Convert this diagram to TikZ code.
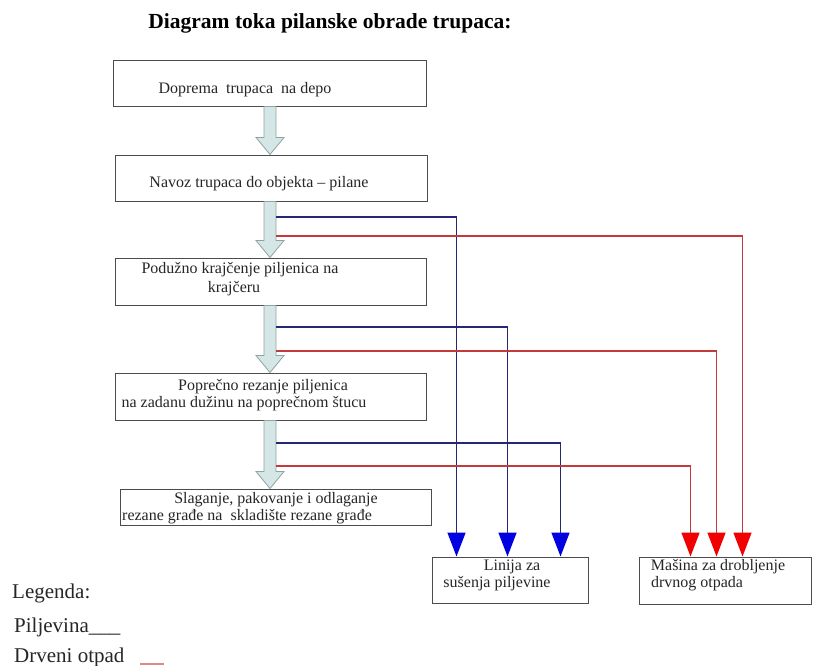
\documentclass[tikz,border=0pt]{standalone}
\usepackage{fontspec}
\setmainfont{Liberation Serif}
\usetikzlibrary{arrows.meta,calc}
\definecolor{arrfill}{HTML}{D5E6E6}
\definecolor{arrdraw}{HTML}{8FA3A3}
\definecolor{navy}{HTML}{27277A}
\definecolor{wred}{HTML}{C43A3A}
\definecolor{tipblue}{HTML}{0000E0}
\definecolor{tipred}{HTML}{F00000}
\newcommand\blkarr[2]{%
  \filldraw[blockarr] ($(ax |- #1.south)+(-6,0)$) -- ($(ax |- #2.north)+(-6,-17)$)
    -- ($(ax |- #2.north)+(-14,-17)$) -- (ax |- #2.north)
    -- ($(ax |- #2.north)+(14,-17)$) -- ($(ax |- #2.north)+(6,-17)$)
    -- ($(ax |- #1.south)+(6,0)$) -- cycle;}
\begin{document}
\begin{tikzpicture}[x=1pt,y=-1pt,
  box/.style={draw=black!70,line width=1pt,inner sep=0pt,fill=white},
  txt/.style={font=\fontsize{16}{19}\selectfont,inner sep=0pt,anchor=base,text=black!85},
  leg/.style={font=\fontsize{21}{24}\selectfont,inner sep=0pt,anchor=base west,text=black!85},
  blockarr/.style={fill=arrfill,draw=arrdraw,line width=0.8pt},
  pil/.style={draw=navy,line width=1.5pt,-{Triangle[width=18pt,length=24pt,color=tipblue,fill=tipblue]}},
  otp/.style={draw=wred,line width=1.5pt,-{Triangle[width=18pt,length=24pt,color=tipred,fill=tipred]}},
]
\useasboundingbox[fill=white] (0,0) rectangle (813,665);

\node[font=\fontsize{21.5}{25}\selectfont\bfseries,anchor=base,inner sep=0pt] (title) at (330,28) {Diagram toka pilanske obrade trupaca:};

% boxes
\node[box,minimum width=313pt,minimum height=46pt] (b1) at (269.5,83) {};
\node[box,minimum width=312pt,minimum height=46pt] (b2) at (271,178) {};
\node[box,minimum width=311pt,minimum height=47pt] (b3) at (270.5,281.5) {};
\node[box,minimum width=311pt,minimum height=47pt] (b4) at (270.5,396.5) {};
\node[box,minimum width=311pt,minimum height=36pt] (b5) at (275.5,507) {};
\node[box,minimum width=156pt,minimum height=46pt] (lin) at (510,580) {};
\node[box,minimum width=172pt,minimum height=47pt] (mas) at (725,580.5) {};

% box texts
\node[txt] (t1) at (245,93) {Doprema\ \ trupaca\ \ na depo};
\node[txt] (t2) at (259,187) {Navoz trupaca do objekta – pilane};
\node[txt] (t3a) at (240,273) {Podužno krajčenje piljenica na};
\node[txt] (t3b) at (234,292) {krajčeru};
\node[txt] (t4a) at (263,390) {Poprečno rezanje piljenica};
\node[txt] (t4b) at (244,407) {na zadanu dužinu na poprečnom štucu};
\node[txt] (t5a) at (276,503) {Slaganje, pakovanje i odlaganje};
\node[txt] (t5b) at (247,520) {rezane građe na\ \ skladište rezane građe};
\node[txt] (t6a) at (512,570) {Linija za};
\node[txt] (t6b) at (497,587) {sušenja piljevine};
\node[txt] (t7a) at (718,570) {Mašina za drobljenje};
\node[txt] (t7b) at (697,587) {drvnog otpada};

% block arrows
\coordinate (ax) at (270,0);
\blkarr{b1}{b2}
\blkarr{b2}{b3}
\blkarr{b3}{b4}
\blkarr{b4}{b5}

% side flows
\coordinate (p1) at (276,217);
\coordinate (r1) at (276,236);
\coordinate (p2) at (276,327);
\coordinate (r2) at (276,351);
\coordinate (p3) at (276,443);
\coordinate (r3) at (276,466);
\draw[pil] (p1) -| ([xshift=25pt]lin.north west);
\draw[otp] (r1) -| ([xshift=104pt]mas.north west);
\draw[pil] (p2) -| ([xshift=76pt]lin.north west);
\draw[otp] (r2) -| ([xshift=78pt]mas.north west);
\draw[pil] (p3) -| ([xshift=129pt]lin.north west);
\draw[otp] (r3) -| ([xshift=52pt]mas.north west);

% legend
\node[leg] (lg) at (12,598) {Legenda:};
\node[leg] (lp) at (14,632) {Piljevina\_\_\_};
\node[leg] (lo) at (14,662) {Drveni otpad};
\coordinate (lr1) at (140,664);
\coordinate (lr2) at (164,664);
\draw[wred!60,line width=1.2pt] (lr1) -- (lr2);
\end{tikzpicture}
\end{document}
